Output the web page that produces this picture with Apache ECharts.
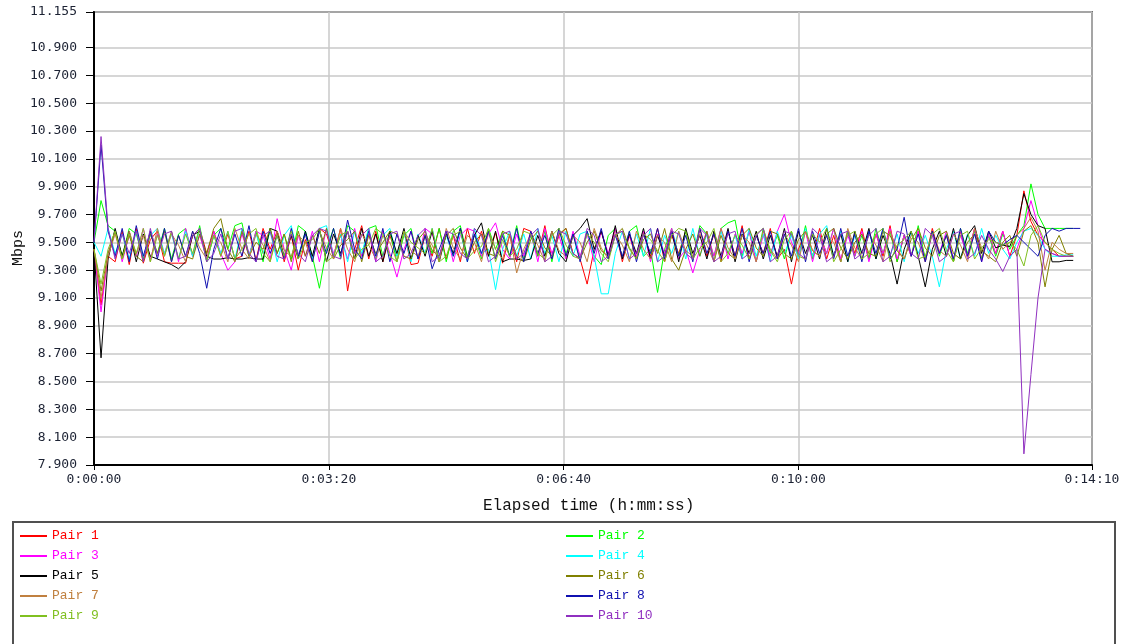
<!DOCTYPE html>
<html>
<head>
<meta charset="utf-8">
<title>Throughput per pair</title>
<script src="https://cdn.jsdelivr.net/npm/echarts@6/dist/echarts.min.js"></script>
<style>
  html, body { margin: 0; padding: 0; background: #ffffff; }
  #chart { width: 1127px; height: 644px; }
</style>
</head>
<body>
<div id="chart"></div>
<script>
// Sample times in seconds (one throughput sample every 6 s)
const TIMES = [];
for (let s = 0; s <= 840; s += 6) TIMES.push(s);

// Axis ticks
const Y_TICKS = [7.9, 8.1, 8.3, 8.5, 8.7, 8.9, 9.1, 9.3, 9.5, 9.7, 9.9, 10.1, 10.3, 10.5, 10.7, 10.9, 11.155];
const X_TICKS = [0, 200, 400, 600, 850];

const PAIR_NAMES = ['Pair 1', 'Pair 2', 'Pair 3', 'Pair 4', 'Pair 5', 'Pair 6', 'Pair 7', 'Pair 8', 'Pair 9', 'Pair 10'];
const PAIR_COLORS = ['#ff0000', '#00ff00', '#ff00ff', '#00ffff', '#000000', '#808000', '#c08040', '#1010b0', '#80c020', '#9030c0'];

// Throughput (Mbps) per pair
const PAIR_1 = [
  9.45, 9.05, 9.40, 9.36, 9.58, 9.34, 9.60, 9.35, 9.52, 9.58,
  9.36, 9.35, 9.35, 9.35, 9.55, 9.60, 9.42, 9.58, 9.40, 9.56,
  9.38, 9.40, 9.58, 9.37, 9.60, 9.45, 9.58, 9.36, 9.55, 9.30,
  9.52, 9.38, 9.60, 9.56, 9.40, 9.60, 9.15, 9.45, 9.62, 9.38,
  9.58, 9.36, 9.55, 9.40, 9.58, 9.34, 9.35, 9.55, 9.40, 9.60,
  9.38, 9.55, 9.36, 9.60, 9.42, 9.58, 9.40, 9.57, 9.35, 9.55,
  9.36, 9.60, 9.58, 9.40, 9.62, 9.38, 9.55, 9.60, 9.42, 9.38,
  9.20, 9.45, 9.58, 9.40, 9.60, 9.36, 9.55, 9.38, 9.57, 9.40,
  9.60, 9.36, 9.55, 9.42, 9.58, 9.38, 9.60, 9.40, 9.56, 9.36,
  9.58, 9.40, 9.62, 9.38, 9.55, 9.42, 9.60, 9.38, 9.45, 9.20,
  9.45, 9.58, 9.40, 9.60, 9.38, 9.55, 9.36, 9.58, 9.42, 9.60,
  9.38, 9.56, 9.40, 9.62, 9.36, 9.55, 9.40, 9.58, 9.38, 9.60,
  9.42, 9.55, 9.36, 9.58, 9.40, 9.60, 9.38, 9.55, 9.42, 9.58,
  9.40, 9.55, 9.87, 9.65, 9.55, 9.50, 9.45, 9.40, 9.40, 9.40
];
const PAIR_2 = [
  9.50, 9.80, 9.62, 9.58, 9.40, 9.60, 9.56, 9.38, 9.58, 9.42,
  9.60, 9.38, 9.56, 9.60, 9.40, 9.62, 9.36, 9.55, 9.60, 9.45,
  9.62, 9.64, 9.40, 9.58, 9.36, 9.60, 9.42, 9.56, 9.38, 9.62,
  9.58, 9.40, 9.17, 9.45, 9.60, 9.38, 9.62, 9.58, 9.40, 9.60,
  9.62, 9.40, 9.58, 9.36, 9.55, 9.60, 9.38, 9.56, 9.42, 9.60,
  9.36, 9.58, 9.62, 9.40, 9.56, 9.38, 9.60, 9.45, 9.58, 9.40,
  9.62, 9.38, 9.55, 9.40, 9.58, 9.36, 9.60, 9.42, 9.56, 9.38,
  9.58, 9.40, 9.34, 9.55, 9.60, 9.38, 9.58, 9.62, 9.40, 9.45,
  9.14, 9.45, 9.60, 9.40, 9.58, 9.38, 9.62, 9.56, 9.40, 9.60,
  9.64, 9.66, 9.40, 9.58, 9.36, 9.60, 9.42, 9.55, 9.38, 9.58,
  9.40, 9.62, 9.38, 9.56, 9.42, 9.60, 9.36, 9.58, 9.40, 9.55,
  9.38, 9.60, 9.42, 9.58, 9.36, 9.55, 9.40, 9.62, 9.38, 9.58,
  9.40, 9.56, 9.36, 9.60, 9.42, 9.58, 9.38, 9.55, 9.40, 9.56,
  9.45, 9.55, 9.62, 9.92, 9.70, 9.60, 9.60, 9.60, 9.60, 9.60
];
const PAIR_3 = [
  9.45, 9.00, 9.42, 9.58, 9.36, 9.55, 9.40, 9.60, 9.38, 9.56,
  9.42, 9.58, 9.36, 9.60, 9.40, 9.55, 9.38, 9.58, 9.42, 9.30,
  9.36, 9.56, 9.40, 9.58, 9.55, 9.38, 9.67, 9.45, 9.30, 9.55,
  9.40, 9.58, 9.36, 9.60, 9.42, 9.55, 9.38, 9.60, 9.40, 9.56,
  9.36, 9.58, 9.42, 9.25, 9.45, 9.58, 9.38, 9.60, 9.56, 9.40,
  9.58, 9.36, 9.55, 9.60, 9.58, 9.40, 9.56, 9.64, 9.45, 9.38,
  9.56, 9.40, 9.58, 9.36, 9.60, 9.42, 9.55, 9.38, 9.58, 9.40,
  9.56, 9.36, 9.58, 9.42, 9.60, 9.38, 9.55, 9.40, 9.58, 9.36,
  9.56, 9.42, 9.60, 9.38, 9.45, 9.28, 9.45, 9.58, 9.40, 9.60,
  9.38, 9.56, 9.42, 9.58, 9.36, 9.55, 9.40, 9.58, 9.70, 9.50,
  9.40, 9.58, 9.36, 9.56, 9.42, 9.60, 9.38, 9.55, 9.40, 9.58,
  9.36, 9.56, 9.42, 9.60, 9.38, 9.55, 9.40, 9.58, 9.36, 9.56,
  9.42, 9.58, 9.38, 9.55, 9.40, 9.60, 9.36, 9.56, 9.42, 9.58,
  9.40, 9.45, 9.60, 9.80, 9.62, 9.45, 9.42, 9.40, 9.40, 9.40
];
const PAIR_4 = [
  9.50, 9.40, 9.60, 9.42, 9.56, 9.38, 9.58, 9.40, 9.55, 9.60,
  9.42, 9.56, 9.38, 9.58, 9.40, 9.60, 9.36, 9.55, 9.42, 9.58,
  9.38, 9.60, 9.40, 9.56, 9.42, 9.58, 9.36, 9.55, 9.62, 9.40,
  9.58, 9.38, 9.60, 9.62, 9.40, 9.56, 9.36, 9.58, 9.42, 9.60,
  9.38, 9.55, 9.60, 9.40, 9.58, 9.36, 9.56, 9.42, 9.60, 9.38,
  9.55, 9.40, 9.58, 9.36, 9.60, 9.42, 9.45, 9.16, 9.45, 9.58,
  9.40, 9.56, 9.38, 9.60, 9.42, 9.55, 9.36, 9.58, 9.40, 9.56,
  9.58, 9.40, 9.13, 9.13, 9.42, 9.58, 9.38, 9.56, 9.40, 9.60,
  9.36, 9.55, 9.42, 9.58, 9.38, 9.60, 9.40, 9.56, 9.36, 9.58,
  9.42, 9.55, 9.38, 9.60, 9.40, 9.56, 9.36, 9.58, 9.42, 9.55,
  9.38, 9.60, 9.40, 9.56, 9.62, 9.40, 9.58, 9.36, 9.55, 9.42,
  9.58, 9.38, 9.60, 9.40, 9.56, 9.36, 9.58, 9.42, 9.55, 9.40,
  9.18, 9.45, 9.58, 9.38, 9.56, 9.40, 9.60, 9.42, 9.55, 9.45,
  9.38, 9.50, 9.58, 9.60, 9.55, 9.45, 9.40, 9.40, 9.41, 9.41
];
const PAIR_5 = [
  9.45, 8.67, 9.38, 9.60, 9.40, 9.58, 9.36, 9.56, 9.40, 9.38,
  9.36, 9.34, 9.31, 9.36, 9.55, 9.58, 9.40, 9.38, 9.38, 9.39,
  9.38, 9.38, 9.39, 9.38, 9.38, 9.60, 9.58, 9.40, 9.55, 9.38,
  9.58, 9.40, 9.60, 9.36, 9.56, 9.42, 9.58, 9.38, 9.60, 9.40,
  9.56, 9.36, 9.58, 9.42, 9.60, 9.38, 9.55, 9.40, 9.58, 9.36,
  9.56, 9.42, 9.60, 9.38, 9.55, 9.64, 9.40, 9.58, 9.36, 9.38,
  9.38, 9.37, 9.38, 9.55, 9.40, 9.58, 9.42, 9.36, 9.55, 9.60,
  9.67, 9.45, 9.58, 9.40, 9.62, 9.38, 9.56, 9.42, 9.60, 9.38,
  9.55, 9.40, 9.58, 9.36, 9.60, 9.42, 9.55, 9.38, 9.58, 9.40,
  9.60, 9.36, 9.56, 9.42, 9.58, 9.38, 9.55, 9.40, 9.60, 9.36,
  9.58, 9.42, 9.55, 9.38, 9.60, 9.40, 9.56, 9.36, 9.58, 9.42,
  9.60, 9.38, 9.55, 9.42, 9.20, 9.45, 9.58, 9.40, 9.18, 9.45,
  9.58, 9.40, 9.60, 9.38, 9.55, 9.62, 9.42, 9.58, 9.46, 9.48,
  9.47, 9.60, 9.85, 9.70, 9.62, 9.60, 9.36, 9.36, 9.37, 9.37
];
const PAIR_6 = [
  9.45, 9.15, 9.42, 9.58, 9.38, 9.55, 9.40, 9.36, 9.56, 9.42,
  9.58, 9.36, 9.55, 9.40, 9.38, 9.56, 9.42, 9.60, 9.67, 9.45,
  9.36, 9.58, 9.40, 9.50, 9.45, 9.60, 9.42, 9.56, 9.36, 9.58,
  9.40, 9.55, 9.42, 9.60, 9.38, 9.48, 9.52, 9.58, 9.36, 9.55,
  9.42, 9.50, 9.58, 9.56, 9.40, 9.38, 9.52, 9.58, 9.44, 9.40,
  9.55, 9.60, 9.46, 9.38, 9.50, 9.56, 9.42, 9.40, 9.58, 9.55,
  9.40, 9.36, 9.52, 9.58, 9.46, 9.40, 9.56, 9.60, 9.42, 9.38,
  9.50, 9.58, 9.44, 9.40, 9.55, 9.60, 9.46, 9.38, 9.52, 9.56,
  9.42, 9.60, 9.38, 9.30, 9.45, 9.56, 9.40, 9.58, 9.36, 9.55,
  9.42, 9.38, 9.55, 9.60, 9.46, 9.40, 9.58, 9.56, 9.42, 9.38,
  9.52, 9.58, 9.44, 9.40, 9.56, 9.60, 9.46, 9.38, 9.50, 9.56,
  9.42, 9.40, 9.58, 9.55, 9.44, 9.38, 9.52, 9.60, 9.46, 9.40,
  9.55, 9.58, 9.42, 9.38, 9.50, 9.56, 9.44, 9.40, 9.36, 9.50,
  9.55, 9.40, 9.58, 9.62, 9.50, 9.18, 9.45, 9.55, 9.42, 9.40
];
const PAIR_7 = [
  9.45, 9.10, 9.40, 9.56, 9.38, 9.58, 9.42, 9.55, 9.36, 9.60,
  9.40, 9.56, 9.48, 9.36, 9.58, 9.46, 9.38, 9.55, 9.50, 9.36,
  9.60, 9.45, 9.38, 9.56, 9.48, 9.36, 9.58, 9.44, 9.40, 9.55,
  9.50, 9.36, 9.58, 9.46, 9.38, 9.60, 9.45, 9.36, 9.56, 9.48,
  9.38, 9.55, 9.50, 9.36, 9.58, 9.44, 9.40, 9.56, 9.48, 9.36,
  9.60, 9.46, 9.38, 9.55, 9.50, 9.36, 9.58, 9.45, 9.38, 9.56,
  9.28, 9.45, 9.56, 9.48, 9.36, 9.58, 9.44, 9.40, 9.55, 9.50,
  9.36, 9.60, 9.46, 9.38, 9.56, 9.48, 9.36, 9.58, 9.45, 9.38,
  9.55, 9.50, 9.36, 9.58, 9.44, 9.40, 9.56, 9.48, 9.36, 9.60,
  9.46, 9.38, 9.55, 9.50, 9.36, 9.58, 9.45, 9.38, 9.56, 9.48,
  9.36, 9.58, 9.44, 9.40, 9.55, 9.50, 9.36, 9.60, 9.46, 9.38,
  9.56, 9.48, 9.36, 9.58, 9.45, 9.38, 9.55, 9.50, 9.36, 9.58,
  9.44, 9.40, 9.56, 9.48, 9.36, 9.60, 9.46, 9.38, 9.58, 9.45,
  9.50, 9.55, 9.60, 9.68, 9.58, 9.30, 9.50, 9.45, 9.42, 9.42
];
const PAIR_8 = [
  9.50, 10.20, 9.58, 9.40, 9.60, 9.36, 9.62, 9.40, 9.58, 9.38,
  9.60, 9.36, 9.55, 9.40, 9.58, 9.42, 9.17, 9.45, 9.60, 9.38,
  9.56, 9.40, 9.62, 9.36, 9.58, 9.42, 9.55, 9.38, 9.60, 9.40,
  9.56, 9.36, 9.58, 9.42, 9.60, 9.40, 9.66, 9.45, 9.38, 9.58,
  9.40, 9.60, 9.36, 9.56, 9.42, 9.58, 9.38, 9.55, 9.31, 9.45,
  9.58, 9.40, 9.60, 9.36, 9.56, 9.42, 9.58, 9.38, 9.55, 9.40,
  9.60, 9.36, 9.58, 9.42, 9.55, 9.38, 9.60, 9.40, 9.56, 9.36,
  9.58, 9.42, 9.60, 9.38, 9.55, 9.40, 9.58, 9.36, 9.56, 9.42,
  9.60, 9.38, 9.58, 9.40, 9.55, 9.36, 9.60, 9.42, 9.56, 9.38,
  9.58, 9.40, 9.60, 9.36, 9.55, 9.42, 9.58, 9.38, 9.56, 9.40,
  9.60, 9.36, 9.58, 9.42, 9.55, 9.38, 9.60, 9.40, 9.56, 9.36,
  9.58, 9.42, 9.60, 9.38, 9.45, 9.68, 9.40, 9.56, 9.36, 9.58,
  9.42, 9.55, 9.38, 9.60, 9.40, 9.56, 9.36, 9.58, 9.50, 9.48,
  9.52, 9.55, 9.50, 9.45, 9.40, 9.55, 9.60, 9.58, 9.60, 9.60,
  9.60
];
const PAIR_9 = [
  9.45, 9.20, 9.45, 9.58, 9.38, 9.56, 9.42, 9.60, 9.36, 9.55,
  9.40, 9.58, 9.38, 9.56, 9.42, 9.60, 9.36, 9.55, 9.40, 9.58,
  9.38, 9.45, 9.56, 9.60, 9.42, 9.36, 9.55, 9.40, 9.58, 9.38,
  9.50, 9.52, 9.60, 9.36, 9.40, 9.55, 9.58, 9.38, 9.45, 9.48,
  9.60, 9.56, 9.40, 9.36, 9.58, 9.50, 9.46, 9.42, 9.60, 9.36,
  9.40, 9.55, 9.58, 9.38, 9.44, 9.47, 9.60, 9.36, 9.52, 9.40,
  9.45, 9.58, 9.56, 9.42, 9.38, 9.55, 9.60, 9.48, 9.40, 9.38,
  9.56, 9.50, 9.42, 9.36, 9.55, 9.58, 9.45, 9.38, 9.56, 9.52,
  9.44, 9.36, 9.55, 9.60, 9.58, 9.38, 9.46, 9.50, 9.60, 9.36,
  9.42, 9.55, 9.48, 9.38, 9.56, 9.60, 9.44, 9.36, 9.52, 9.58,
  9.40, 9.38, 9.56, 9.50, 9.60, 9.36, 9.45, 9.55, 9.58, 9.38,
  9.42, 9.56, 9.60, 9.36, 9.48, 9.52, 9.58, 9.38, 9.40, 9.56,
  9.60, 9.44, 9.36, 9.55, 9.58, 9.38, 9.46, 9.52, 9.50, 9.48,
  9.50, 9.45, 9.33, 9.55, 9.62, 9.50, 9.45, 9.42, 9.40, 9.40
];
const PAIR_10 = [
  9.50, 10.26, 9.60, 9.38, 9.56, 9.42, 9.58, 9.36, 9.60, 9.40,
  9.56, 9.58, 9.38, 9.40, 9.55, 9.60, 9.36, 9.42, 9.56, 9.38,
  9.58, 9.60, 9.42, 9.36, 9.55, 9.58, 9.40, 9.38, 9.56, 9.42,
  9.36, 9.55, 9.60, 9.58, 9.40, 9.38, 9.58, 9.42, 9.55, 9.60,
  9.36, 9.40, 9.56, 9.58, 9.38, 9.42, 9.55, 9.60, 9.36, 9.40,
  9.58, 9.56, 9.42, 9.38, 9.60, 9.55, 9.36, 9.40, 9.56, 9.58,
  9.38, 9.42, 9.55, 9.60, 9.36, 9.40, 9.58, 9.56, 9.42, 9.38,
  9.60, 9.55, 9.36, 9.40, 9.56, 9.58, 9.38, 9.42, 9.55, 9.60,
  9.36, 9.40, 9.58, 9.56, 9.42, 9.38, 9.60, 9.55, 9.36, 9.40,
  9.56, 9.58, 9.38, 9.42, 9.55, 9.60, 9.36, 9.40, 9.58, 9.56,
  9.42, 9.38, 9.60, 9.55, 9.36, 9.40, 9.56, 9.58, 9.38, 9.42,
  9.55, 9.60, 9.36, 9.40, 9.58, 9.56, 9.42, 9.38, 9.60, 9.55,
  9.36, 9.40, 9.56, 9.58, 9.38, 9.42, 9.55, 9.45, 9.38, 9.29,
  9.40, 9.45, 7.98, 8.55, 9.10, 9.45, 9.42, 9.40, 9.40, 9.40
];

const PAIR_VALUES = [PAIR_1, PAIR_2, PAIR_3, PAIR_4, PAIR_5, PAIR_6, PAIR_7, PAIR_8, PAIR_9, PAIR_10];

function pad2(n) { return (n < 10 ? '0' : '') + n; }
function hms(sec) {
  const h = Math.floor(sec / 3600);
  const m = Math.floor((sec % 3600) / 60);
  const s = Math.round(sec % 60);
  return h + ':' + pad2(m) + ':' + pad2(s);
}

const MONO = '"DejaVu Sans Mono", "Liberation Mono", monospace';
const LABEL_COLOR = '#1c2233';

const series = PAIR_NAMES.map((name, k) => ({
  name: name,
  type: 'line',
  data: PAIR_VALUES[k].map((v, i) => [TIMES[i], v]),
  showSymbol: false,
  symbol: 'none',
  silent: true,
  lineStyle: { width: 1, color: PAIR_COLORS[k] },
  itemStyle: { color: PAIR_COLORS[k] },
  z: 2 + k
}));

function legendFor(indices, left) {
  return {
    orient: 'vertical',
    left: left,
    top: 529,
    padding: 0,
    itemGap: 6,
    itemWidth: 27,
    itemHeight: 2,
    icon: 'rect',
    selectedMode: false,
    textStyle: { fontFamily: '"Liberation Mono", monospace', fontSize: 13, lineHeight: 14 },
    data: indices.map(k => ({ name: PAIR_NAMES[k], textStyle: { color: PAIR_COLORS[k] } }))
  };
}

const chart = echarts.init(document.getElementById('chart'), null, { renderer: 'canvas' });
chart.setOption({
  animation: false,
  backgroundColor: '#ffffff',
  grid: {
    left: 94, right: 35, top: 12, bottom: 179,
    show: true, borderColor: '#000000', borderWidth: 1.5, backgroundColor: 'transparent'
  },
  xAxis: {
    type: 'value',
    min: 0,
    max: 850,
    axisLine: { show: true, lineStyle: { color: '#000000', width: 2 } },
    axisTick: { show: true, customValues: X_TICKS, length: 5, lineStyle: { color: '#000000', width: 1 } },
    axisLabel: {
      customValues: X_TICKS,
      formatter: v => hms(v),
      fontFamily: MONO, fontSize: 13, color: LABEL_COLOR, margin: 8
    },
    splitLine: { show: true, lineStyle: { color: '#c8c8c8', width: 1.5 } }
  },
  yAxis: {
    type: 'value',
    min: 7.9,
    max: 11.155,
    axisLine: { show: true, lineStyle: { color: '#000000', width: 2 } },
    axisTick: { show: true, customValues: Y_TICKS, length: 8, lineStyle: { color: '#000000', width: 1 } },
    axisLabel: {
      customValues: Y_TICKS,
      formatter: v => v.toFixed(3),
      fontFamily: MONO, fontSize: 13, color: LABEL_COLOR, margin: 17
    },
    splitLine: { show: true, lineStyle: { color: '#c8c8c8', width: 1.5 } }
  },
  legend: [
    legendFor([0, 2, 4, 6, 8], 20),
    legendFor([1, 3, 5, 7, 9], 566)
  ],
  graphic: [
    {
      type: 'text',
      left: 483, top: 498,
      style: { text: 'Elapsed time (h:mm:ss)', font: '16px "Liberation Mono", monospace', fill: '#111111' }
    },
    {
      type: 'text',
      x: 11, y: 266, rotation: Math.PI / 2,
      style: { text: 'Mbps', font: '15px "Liberation Mono", monospace', fill: '#111111' }
    },
    {
      type: 'rect',
      shape: { x: 13, y: 522, width: 1102, height: 130 },
      style: { fill: 'none', stroke: '#505050', lineWidth: 2 },
      silent: true
    }
  ],
  series: series
});
</script>
</body>
</html>
